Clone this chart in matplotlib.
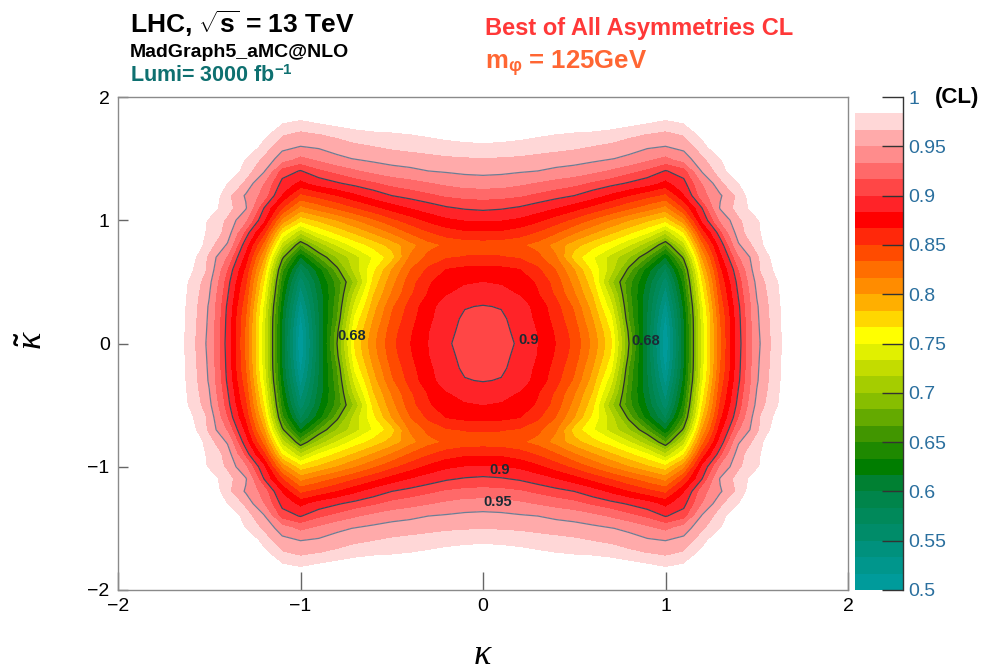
import numpy as np
import matplotlib
matplotlib.use("Agg")
import matplotlib.pyplot as plt

plt.rcParams['font.family'] = ['Liberation Sans', 'DejaVu Sans']
plt.rcParams['mathtext.fontset'] = 'custom'
plt.rcParams['mathtext.rm'] = 'Liberation Sans:bold'
plt.rcParams['mathtext.bf'] = 'Liberation Sans:bold'
plt.rcParams['mathtext.it'] = 'Liberation Serif:italic'

# grid of the upper-right quadrant (kappa >= 0, kappa_tilde >= 0), mirrored later
kappa_q = [0.0, 0.1, 0.2, 0.3, 0.4, 0.5, 0.6, 0.7, 0.8, 0.9, 1.0,
           1.1, 1.2, 1.3, 1.4, 1.5, 1.6, 1.7, 1.8, 1.9, 2.0]
kappa_tilde_q = [0.0, 0.1, 0.2, 0.3, 0.4, 0.5, 0.6, 0.7, 0.8, 0.9, 1.0,
                 1.1, 1.2, 1.3, 1.4, 1.5, 1.6, 1.7, 1.8, 1.9, 2.0]

# CL values, one row per kappa_tilde value
cl_quadrant = [
    [0.906, 0.905, 0.898, 0.883, 0.866, 0.845, 0.812, 0.770, 0.680, 0.595, 0.500, 0.612, 0.740, 0.830, 0.893, 0.945, 0.972, 1, 1, 1, 1],
    [0.905, 0.904, 0.896, 0.882, 0.864, 0.842, 0.808, 0.765, 0.675, 0.595, 0.503, 0.612, 0.740, 0.830, 0.894, 0.946, 0.973, 1, 1, 1, 1],
    [0.903, 0.903, 0.893, 0.879, 0.860, 0.836, 0.800, 0.755, 0.665, 0.598, 0.512, 0.615, 0.740, 0.832, 0.895, 0.947, 0.974, 1, 1, 1, 1],
    [0.901, 0.899, 0.891, 0.877, 0.856, 0.830, 0.792, 0.740, 0.660, 0.600, 0.525, 0.620, 0.745, 0.838, 0.897, 0.948, 0.975, 1, 1, 1, 1],
    [0.891, 0.889, 0.882, 0.868, 0.847, 0.818, 0.782, 0.725, 0.655, 0.605, 0.540, 0.630, 0.755, 0.845, 0.902, 0.951, 0.977, 1, 1, 1, 1],
    [0.883, 0.881, 0.876, 0.864, 0.842, 0.810, 0.772, 0.705, 0.655, 0.612, 0.555, 0.640, 0.765, 0.852, 0.907, 0.955, 0.979, 1, 1, 1, 1],
    [0.872, 0.871, 0.867, 0.853, 0.832, 0.800, 0.762, 0.725, 0.675, 0.625, 0.580, 0.655, 0.780, 0.862, 0.915, 0.962, 0.985, 1, 1, 1, 1],
    [0.852, 0.851, 0.848, 0.838, 0.818, 0.775, 0.752, 0.727, 0.700, 0.665, 0.615, 0.685, 0.800, 0.875, 0.930, 0.962, 0.990, 1, 1, 1, 1],
    [0.841, 0.840, 0.836, 0.827, 0.810, 0.790, 0.773, 0.757, 0.735, 0.705, 0.665, 0.725, 0.825, 0.890, 0.948, 0.972, 1, 1, 1, 1, 1],
    [0.864, 0.863, 0.858, 0.848, 0.835, 0.818, 0.802, 0.786, 0.770, 0.752, 0.720, 0.765, 0.855, 0.910, 0.960, 0.978, 1, 1, 1, 1, 1],
    [0.884, 0.883, 0.879, 0.870, 0.858, 0.845, 0.830, 0.815, 0.800, 0.786, 0.772, 0.810, 0.885, 0.935, 0.963, 0.980, 1, 1, 1, 1, 1],
    [0.904, 0.902, 0.898, 0.891, 0.883, 0.873, 0.861, 0.849, 0.836, 0.824, 0.810, 0.850, 0.900, 0.952, 0.972, 0.992, 1, 1, 1, 1, 1],
    [0.922, 0.921, 0.918, 0.912, 0.906, 0.900, 0.890, 0.878, 0.866, 0.855, 0.845, 0.880, 0.925, 0.948, 0.970, 1, 1, 1, 1, 1, 1],
    [0.941, 0.940, 0.936, 0.931, 0.926, 0.921, 0.913, 0.906, 0.898, 0.890, 0.877, 0.895, 0.932, 0.962, 0.982, 1, 1, 1, 1, 1, 1],
    [0.955, 0.954, 0.952, 0.950, 0.946, 0.943, 0.937, 0.930, 0.921, 0.912, 0.899, 0.908, 0.952, 0.973, 1, 1, 1, 1, 1, 1, 1],
    [0.966, 0.965, 0.964, 0.962, 0.960, 0.958, 0.955, 0.951, 0.946, 0.937, 0.928, 0.942, 0.962, 0.982, 1, 1, 1, 1, 1, 1, 1],
    [0.976, 0.976, 0.975, 0.973, 0.971, 0.969, 0.966, 0.963, 0.958, 0.953, 0.950, 0.955, 0.975, 1, 1, 1, 1, 1, 1, 1, 1],
    [1.000, 0.995, 0.990, 0.986, 0.983, 0.980, 0.978, 0.975, 0.970, 0.966, 0.962, 0.968, 0.988, 1, 1, 1, 1, 1, 1, 1, 1],
    [1, 1, 1, 1, 1, 1, 1, 0.995, 0.990, 0.985, 0.980, 0.985, 1, 1, 1, 1, 1, 1, 1, 1, 1],
    [1] * 21,
    [1] * 21,
]

# ROOT-like palette, 30 bands from 0.5 to 1.0
band_colors = [
    '#009b9b', '#00968c', '#00917d', '#008c69', '#00895a', '#00854b',
    '#008032', '#007d00', '#1e8900', '#419600', '#64aa00', '#87be00',
    '#a5cd00', '#c3dc00', '#e1f000', '#ffff00', '#ffd700', '#ffaf00',
    '#ff8c00', '#ff6e00', '#ff4b00', '#ff280a', '#ff0000', '#ff2328',
    '#ff4646', '#ff6969', '#ff8c8c', '#ffaaaa', '#ffd7d7', '#ffffff',
]
cbar_ticks = [0.5, 0.55, 0.6, 0.65, 0.7, 0.75, 0.8, 0.85, 0.9, 0.95, 1.0]
cbar_labels = ['0.5', '0.55', '0.6', '0.65', '0.7', '0.75', '0.8', '0.85', '0.9', '0.95', '1']
axis_ticks = [-2, -1, 0, 1, 2]

# contour lines and where their labels sit
line_levels = [0.68, 0.9, 0.95]
line_colors = ['#2e2e2e', '#3b4a5e', '#6d7d94']
label_text = ['0.68', '0.68', '0.9', '0.9', '0.95']
label_x = [-0.72, 0.89, 0.25, 0.09, 0.08]
label_y = [0.06, 0.02, 0.03, -1.03, -1.29]

# mirror the quadrant to the full plane
kq = np.array(kappa_q)
ktq = np.array(kappa_tilde_q)
zq = np.array(cl_quadrant)
k_full = np.concatenate([-kq[:0:-1], kq])
kt_full = np.concatenate([-ktq[:0:-1], ktq])
z_top = np.hstack([zq[:, :0:-1], zq])
z_full = np.vstack([z_top[:0:-1, :], z_top])
K, KT = np.meshgrid(k_full, kt_full)

levels = np.linspace(0.5, 1.0, 31)

fig = plt.figure(figsize=(9.85, 6.71), dpi=100)
ax = fig.add_axes([118 / 985, 81 / 671, 730 / 985, 493 / 671])

cf = ax.contourf(K, KT, z_full, levels=levels, colors=band_colors)
for lev, col in zip(line_levels, line_colors):
    ax.contour(K, KT, z_full, levels=[lev], colors=col, linewidths=0.9)
for t, x, y in zip(label_text, label_x, label_y):
    ax.text(x, y, t, ha='center', va='center', fontsize=10.5,
            fontweight='bold', color='#1d2a33')

ax.set_xlim(-2, 2)
ax.set_ylim(-2, 2)
ax.set_xticks(axis_ticks)
ax.set_yticks(axis_ticks)
ax.tick_params(axis='x', direction='in', length=13, width=1, color='#666666',
               labelsize=14, pad=6)
ax.tick_params(axis='y', direction='in', length=7.5, width=1, color='#666666',
               labelsize=14, pad=6)
for sp in ax.spines.values():
    sp.set_color('#8a8a8a')
    sp.set_linewidth(1)

# colour bar
cax = fig.add_axes([855 / 985, 81 / 671, 48 / 985, 493 / 671])
cb = fig.colorbar(cf, cax=cax)
cb.outline.set_visible(False)
cb.set_ticks(cbar_ticks)
cb.set_ticklabels(cbar_labels)
cax.tick_params(direction='in', length=15, width=1, color='#333333',
                labelcolor='#2a6f9e', labelsize=14, pad=4)
cax.plot([1, 1], [0, 1], transform=cax.transAxes, color='#333333', lw=1,
         clip_on=False)
fig.text(935 / 985, 1 - 97 / 671, '(CL)', ha='left', va='center',
         fontsize=16, fontweight='bold')

# axis titles
fig.text(483 / 985, 1 - 655 / 671, r'$\kappa$', ha='center', va='center',
         fontsize=26)
fig.text(32 / 985, 1 - 340 / 671, r'$\tilde{\kappa}$', ha='center',
         va='center', fontsize=26, rotation=90)

# header texts
fig.text(130 / 985, 1 - 33 / 671, r'LHC, $\sqrt{\mathrm{s}}$ = 13 TeV',
         fontsize=19, fontweight='bold', va='baseline')
fig.text(130 / 985, 1 - 57 / 671, 'MadGraph5_aMC@NLO', fontsize=14,
         fontweight='bold', va='baseline')
fig.text(130 / 985, 1 - 82 / 671, r'Lumi= 3000 fb$^{\mathrm{-1}}$',
         fontsize=15.5, fontweight='bold', color='#0e7070', va='baseline')
fig.text(485 / 985, 1 - 35 / 671, 'Best of All Asymmetries CL', fontsize=17,
         fontweight='bold', color='#ff3838', va='baseline')
fig.text(485 / 985, 1 - 69 / 671, r'm$_{\mathrm{φ}}$ = 125GeV', fontsize=18.5,
         fontweight='bold', color='#ff6633', va='baseline')

fig.savefig('out.png', dpi=100)
